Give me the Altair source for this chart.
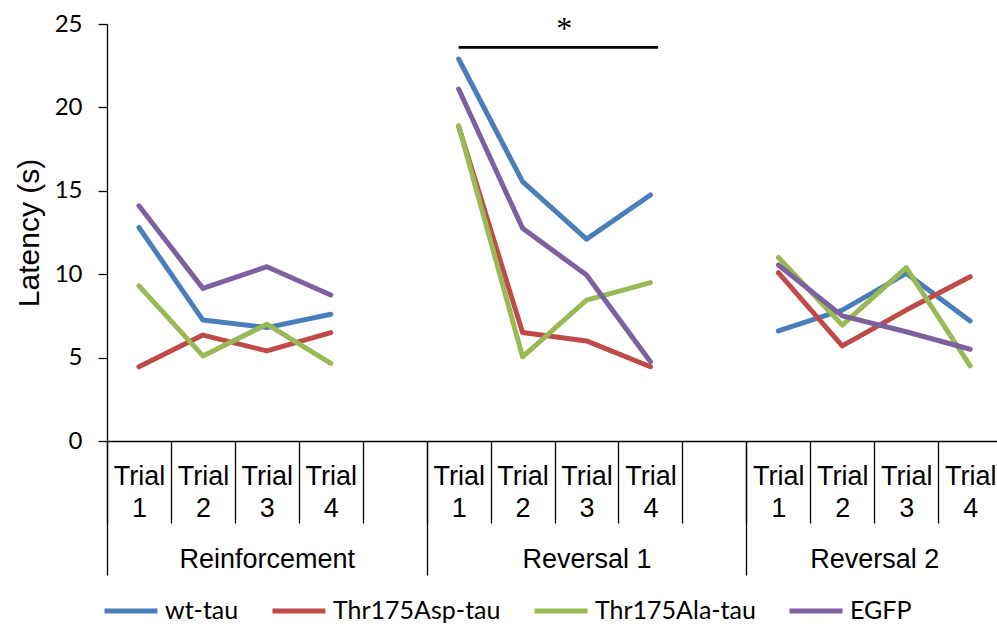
import altair as alt
import pandas as pd

# Experimental phases, trials and genotype groups
phases = ["Reinforcement", "Reversal 1", "Reversal 2"]
trials = ["1", "2", "3", "4"]
groups = ["wt-tau", "Thr175Asp-tau", "Thr175Ala-tau", "EGFP"]
colors = ["#4A7EBB", "#BE4B48", "#98B954", "#7D60A0"]

# Mean latency (s), 4 trials per phase, phases in order
wt_tau = [12.8, 7.25, 6.8, 7.6, 22.9, 15.55, 12.1, 14.75, 6.6, 7.85, 10.05, 7.2]
thr175asp_tau = [4.45, 6.35, 5.4, 6.5, 18.85, 6.5, 6.0, 4.45, 10.1, 5.7, 7.85, 9.85]
thr175ala_tau = [9.3, 5.1, 7.0, 4.65, 18.9, 5.05, 8.45, 9.5, 11.0, 6.95, 10.4, 4.5]
egfp = [14.1, 9.15, 10.45, 8.75, 21.1, 12.75, 9.95, 4.75, 10.55, 7.5, 6.55, 5.5]
series = [wt_tau, thr175asp_tau, thr175ala_tau, egfp]

y_ticks = [0, 5, 10, 15, 20, 25]

# Each phase occupies four trial slots plus one empty spacer slot
SLOTS = 5
rows = []
for g, vals in zip(groups, series):
    for k, v in enumerate(vals):
        p, t = divmod(k, len(trials))
        rows.append({"group": g, "phase": phases[p], "trial": trials[t],
                     "pos": p * SLOTS + t + 0.5, "latency": v})
df = pd.DataFrame(rows)

n_slots = SLOTS * len(phases) - 1
x_scale = alt.Scale(domain=[0, 13.92], nice=False, zero=False)
y_scale = alt.Scale(domain=[0, 25], nice=False, zero=True)

y_axis = alt.Axis(
    orient="left",
    values=y_ticks, tickSize=9, tickWidth=1.3, tickColor="black",
    domainColor="black", domainWidth=1.3, grid=False,
    labelFont="Lato", labelFontSize=24, labelPadding=16, labelColor="black",
    title="Latency (s)", titleFont="Liberation Sans", titleFontSize=30,
    titleFontWeight="normal", titleColor="black", titleAngle=270,
    titleX=-78, titleY=208.5, titleAlign="center", titleBaseline="middle",
)

# significance bracket over Reversal 1 (trial 1 to trial 4)
sig_phase = 1
sig = pd.DataFrame({
    "pos": [sig_phase * SLOTS + 0.5],
    "pos_end": [sig_phase * SLOTS + 3.62],
    "latency": [23.6],
})
star = pd.DataFrame({"pos": [sig_phase * SLOTS + 2.15], "latency": [24.1], "label": ["*"]})

trial_label_expr = (
    f"datum.value % {SLOTS} == {SLOTS - 1} ? '' : "
    f"['Trial', '' + (datum.value % {SLOTS} + 1)]"
)
phase_label_expr = (
    "datum.value < 5 ? 'Reinforcement' : datum.value < 10 ? 'Reversal 1' : 'Reversal 2'"
)

lines = alt.Chart(df).mark_line(
    strokeWidth=5, strokeCap="round", strokeJoin="round"
).encode(
    x=alt.X("pos:Q", scale=x_scale, axis=alt.Axis(
        orient="bottom",
        values=list(range(n_slots)), tickSize=82, tickWidth=1.3, tickColor="black",
        domainColor="black", domainWidth=1.3, grid=False, title=None,
        labelExpr=trial_label_expr, labelOffset=32, labelPadding=-39,
        labelBaseline="alphabetic", labelAlign="center",
        labelFont="Liberation Sans", labelFontSize=27, labelLineHeight=32,
        labelColor="black", labelOverlap=False, labelFlush=False,
    )),
    y=alt.Y("latency:Q", scale=y_scale, axis=y_axis),
    color=alt.Color("group:N", scale=alt.Scale(domain=groups, range=colors),
                    legend=alt.Legend(
                        orient="none", legendX=-5, legendY=558, direction="horizontal",
                        title=None, symbolType="stroke", symbolSize=2809,
                        symbolStrokeWidth=5, labelFont="Lato", labelFontSize=25,
                        labelColor="black", labelLimit=0, columnPadding=23, labelOffset=5,
                    )),
    detail="phase:N",
    order="pos:Q",
)

bracket = alt.Chart(sig).mark_rule(color="black", strokeWidth=2.6).encode(
    x=alt.X("pos:Q", scale=x_scale, axis=alt.Axis(
        orient="bottom",
        values=[0, SLOTS, 2 * SLOTS], tickSize=134, tickWidth=1.3, tickColor="black",
        domain=False, labels=False, grid=False, title=None,
    )),
    x2="pos_end:Q",
    y=alt.Y("latency:Q", scale=y_scale, axis=y_axis),
)

asterisk = alt.Chart(star).mark_text(
    font="Liberation Serif", fontSize=32, baseline="alphabetic", align="center", color="black"
).encode(
    x=alt.X("pos:Q", scale=x_scale, axis=alt.Axis(
        orient="bottom",
        values=[2.5, 7.5, 12], ticks=False, tickSize=0, domain=False, grid=False,
        title=None, labelExpr=phase_label_expr, labelPadding=126,
        labelBaseline="alphabetic", labelAlign="center",
        labelFont="Liberation Sans", labelFontSize=27, labelColor="black",
        labelOverlap=False, labelFlush=False,
    )),
    y=alt.Y("latency:Q", scale=y_scale, axis=y_axis),
    text="label:N",
)

chart = alt.layer(lines, bracket, asterisk).resolve_axis(x="independent").properties(
    width=890, height=417,
    autosize=alt.AutoSizeParams(type="none"),
    padding={"left": 107, "top": 24, "right": 0, "bottom": 185},
    background="white",
).configure_view(stroke=None)

chart.save("out.html", embed_options={"renderer": "svg", "actions": False})
